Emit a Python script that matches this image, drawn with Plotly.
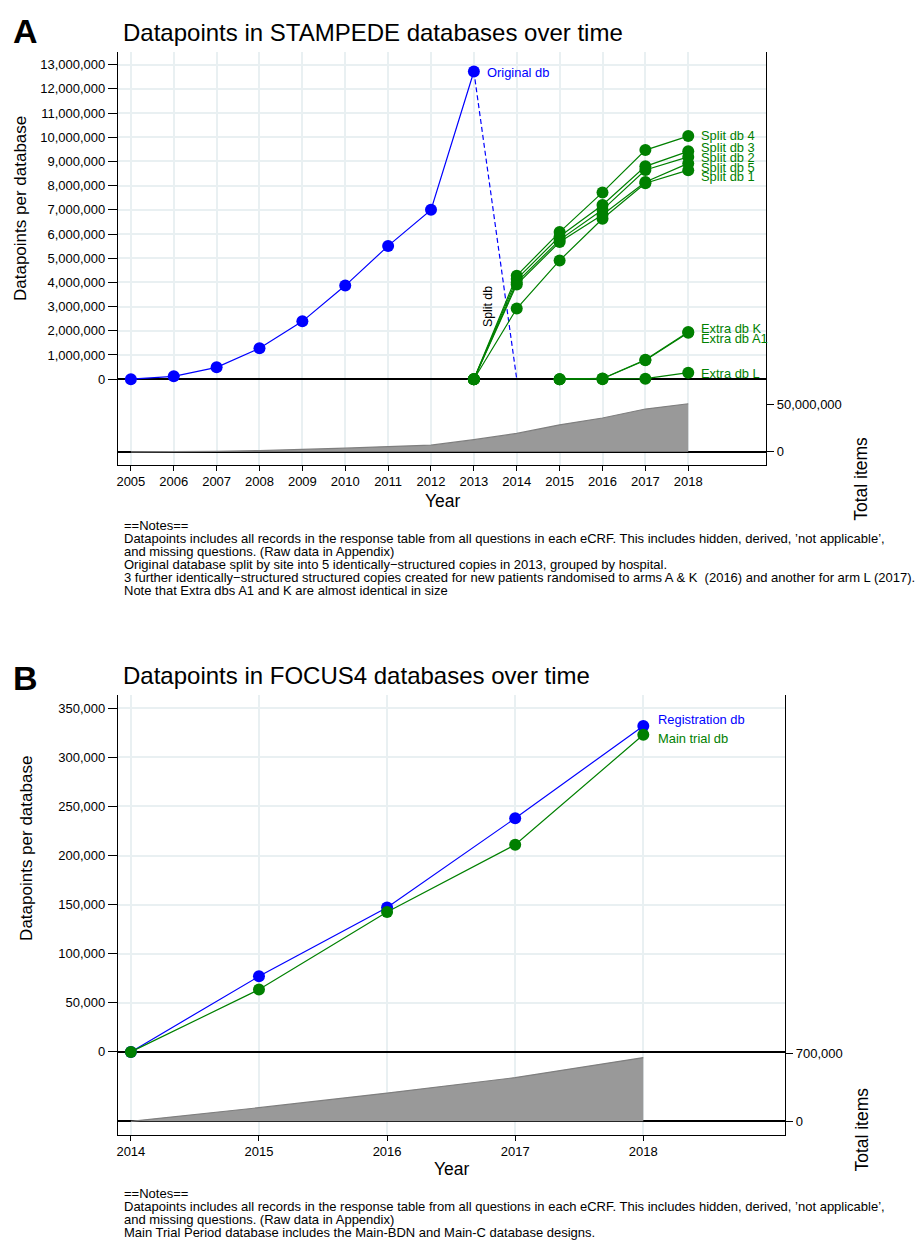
import plotly.graph_objects as go

W, H = 921, 1241
FONT = "Liberation Sans, Arial, Helvetica, sans-serif"
BLUE = "#0000ff"
GREEN = "#008000"
GRID = "#e9f0f2"
AREA_FILL = "#999999"
AREA_LINE = "#7f7f7f"


def px(x):
    return x / W


def py(y):
    return 1 - y / H


# ---------------- Panel A data (STAMPEDE) ----------------
years_a = [2005, 2006, 2007, 2008, 2009, 2010, 2011, 2012, 2013, 2014, 2015, 2016, 2017, 2018]
orig_years = [2005, 2006, 2007, 2008, 2009, 2010, 2011, 2012, 2013]
orig_vals = [0, 0.12e6, 0.49e6, 1.28e6, 2.39e6, 3.87e6, 5.51e6, 7.0e6, 12.72e6]
drop_years = [2013, 2014]
drop_vals = [12.72e6, 0]

split_years = [2013, 2014, 2015, 2016, 2017, 2018]
split_db1 = [0, 2.92e6, 4.91e6, 6.63e6, 8.10e6, 8.64e6]
split_db2 = [0, 4.00e6, 5.76e6, 7.00e6, 8.65e6, 9.19e6]
split_db3 = [0, 4.14e6, 5.90e6, 7.20e6, 8.80e6, 9.42e6]
split_db4 = [0, 4.28e6, 6.08e6, 7.72e6, 9.47e6, 10.05e6]
split_db5 = [0, 3.91e6, 5.67e6, 6.80e6, 8.15e6, 8.92e6]

extra_years = [2015, 2016, 2017, 2018]
extra_db_k = [0, 0.03e6, 0.80e6, 1.95e6]
extra_db_a1 = [0, 0.02e6, 0.78e6, 1.92e6]
extra_db_l = [0, 0, 0.02e6, 0.27e6]

total_a = [0, 0.12e6, 0.49e6, 1.28e6, 2.39e6, 3.87e6, 5.51e6, 7.0e6, 12.72e6,
           19.25e6, 28.3e6, 35.4e6, 44.8e6, 50.3e6]

ticks_a_left = [0, 1e6, 2e6, 3e6, 4e6, 5e6, 6e6, 7e6, 8e6, 9e6, 10e6, 11e6, 12e6, 13e6]
ticks_a_right = [0, 50e6]

# ---------------- Panel B data (FOCUS4) ----------------
years_b = [2014, 2015, 2016, 2017, 2018]
registration_db = [0, 77e3, 147e3, 238e3, 332e3]
main_trial_db = [0, 63.5e3, 142.5e3, 211e3, 323e3]
total_b = [0, 140e3, 290e3, 449e3, 655e3]

ticks_b_left = [0, 50e3, 100e3, 150e3, 200e3, 250e3, 300e3, 350e3]
ticks_b_right = [0, 700e3]

notes_a = [
    "==Notes==",
    "Datapoints includes all records in the response table from all questions in each eCRF. This includes hidden, derived, \u2019not applicable\u2019,",
    "and missing questions. (Raw data in Appendix)",
    "Original database split by site into 5 identically\u2212structured copies in 2013, grouped by hospital.",
    "3 further identically\u2212structured structured copies created for new patients randomised to arms A &amp; K \u00a0(2016) and another for arm L (2017).",
    "Note that Extra dbs A1 and K are almost identical in size",
]
notes_b = [
    "==Notes==",
    "Datapoints includes all records in the response table from all questions in each eCRF. This includes hidden, derived, \u2019not applicable\u2019,",
    "and missing questions. (Raw data in Appendix)",
    "Main Trial Period database includes the Main-BDN and Main-C database designs.",
]

fig = go.Figure()


def line_trace(x, y, color, xa, ya, dash=None, marker=True):
    return go.Scatter(
        x=x, y=y, xaxis=xa, yaxis=ya,
        mode="lines+markers" if marker else "lines",
        line=dict(color=color, width=1.2, dash=dash),
        marker=dict(color=color, size=12),
        cliponaxis=False, showlegend=False, hoverinfo="x+y",
    )


# Panel A lower: total items area
fig.add_trace(go.Scatter(x=years_a, y=total_a, xaxis="x2", yaxis="y2", mode="lines",
                         fill="tozeroy", fillcolor=AREA_FILL,
                         line=dict(color=AREA_LINE, width=1.2),
                         showlegend=False, hoverinfo="x+y"))
# Panel A upper
fig.add_trace(line_trace(drop_years, drop_vals, BLUE, "x", "y", dash="5px,3px", marker=False))
for s in [split_db1, split_db2, split_db3, split_db5, split_db4]:
    fig.add_trace(line_trace(split_years, s, GREEN, "x", "y"))
for s in [extra_db_l, extra_db_a1, extra_db_k]:
    fig.add_trace(line_trace(extra_years, s, GREEN, "x", "y"))
fig.add_trace(line_trace(orig_years, orig_vals, BLUE, "x", "y"))

# Panel B lower area
fig.add_trace(go.Scatter(x=years_b, y=total_b, xaxis="x4", yaxis="y4", mode="lines",
                         fill="tozeroy", fillcolor=AREA_FILL,
                         line=dict(color=AREA_LINE, width=1.2),
                         showlegend=False, hoverinfo="x+y"))
fig.add_trace(line_trace(years_b, registration_db, BLUE, "x3", "y3"))
fig.add_trace(line_trace(years_b, main_trial_db, GREEN, "x3", "y3"))

tickfont = dict(family=FONT, size=13, color="black")
common_x = dict(ticks="outside", ticklen=5, tickcolor="black", showline=True, linecolor="black",
                linewidth=1, showgrid=True, gridcolor=GRID, gridwidth=1.5, zeroline=False,
                tickfont=tickfont, tickmode="array")
common_yl = dict(ticks="outside", ticklen=9, tickcolor="black", showline=True, linecolor="black",
                 linewidth=1, mirror=True, showgrid=True, gridcolor=GRID, gridwidth=1.5,
                 zeroline=True, zerolinecolor="black", zerolinewidth=1.5,
                 tickfont=tickfont, tickformat=",d", tickmode="array")
common_yr = dict(side="right", ticks="outside", ticklen=7, tickcolor="black", showline=False,
                 showgrid=False, zeroline=True, zerolinecolor="black", zerolinewidth=1.5,
                 tickfont=tickfont, tickformat=",d", tickmode="array")

# Panel A axes: px 117..766, 2005 at 130, 2018 at 688
a_ppy = (688 - 130) / 13.0
a_xr = [2005 - (130 - 117) / a_ppy, 2018 + (766 - 688) / a_ppy]
a_ppv = (375 - 59) / 13e6
a_yr = [-(461 - 375) / a_ppv, (375 - 46) / a_ppv]
a_ppv2 = (448 - 400) / 50e6
a_yr2 = [-(461 - 448) / a_ppv2, (448 - 375) / a_ppv2]

# Panel B axes: px 117..785, 2014 at 130, 2018 at 643
b_ppy = (643 - 130) / 4.0
b_xr = [2014 - (130 - 117) / b_ppy, 2018 + (785 - 643) / b_ppy]
b_ppv = (1051 - 705.7) / 350e3
b_yr = [-(1134 - 1051) / b_ppv, (1051 - 692) / b_ppv]
b_ppv2 = (1120.7 - 1052.3) / 700e3
b_yr2 = [-(1134 - 1120.7) / b_ppv2, (1120.7 - 1051) / b_ppv2]

fig.update_layout(
    width=W, height=H, margin=dict(l=0, r=0, t=0, b=0),
    paper_bgcolor="white", plot_bgcolor="rgba(0,0,0,0)",
    font=dict(family=FONT, color="black"),
    xaxis=dict(domain=[px(117), px(766)], range=a_xr, anchor="y", tickvals=years_a, **common_x),
    yaxis=dict(domain=[py(461), py(46)], range=a_yr, anchor="x", tickvals=ticks_a_left, **common_yl),
    xaxis2=dict(domain=[px(117), px(766)], range=a_xr, anchor="y2", visible=False),
    yaxis2=dict(domain=[py(461), py(375)], range=a_yr2, anchor="x2", tickvals=ticks_a_right, **common_yr),
    xaxis3=dict(domain=[px(117), px(785)], range=b_xr, anchor="y3", tickvals=years_b, **common_x),
    yaxis3=dict(domain=[py(1134), py(692)], range=b_yr, anchor="x3", tickvals=ticks_b_left, **common_yl),
    xaxis4=dict(domain=[px(117), px(785)], range=b_xr, anchor="y4", visible=False),
    yaxis4=dict(domain=[py(1134), py(1051)], range=b_yr2, anchor="x4", tickvals=ticks_b_right, **common_yr),
)

ann = []


def paper_text(text, x, y, size, xanchor="left", angle=0, bold=False, color="black"):
    ann.append(dict(text=("<b>%s</b>" % text) if bold else text, x=px(x), y=py(y),
                    xref="paper", yref="paper", xanchor=xanchor, yanchor="middle",
                    textangle=angle, showarrow=False,
                    font=dict(family=FONT, size=size, color=color)))


def series_label(text, xval, yval, xa, ya, color, yshift, xshift=10.5, width=None):
    d = dict(text=text, x=xval, y=yval, xref=xa, yref=ya, xanchor="left", yanchor="middle",
             xshift=xshift, yshift=yshift, showarrow=False,
             font=dict(family=FONT, size=12.9, color=color))
    if width is not None:
        d["width"] = width
        d["align"] = "left"
    ann.append(d)


# Panel A texts
paper_text("A", 10, 25, 34, bold=True)
paper_text("Datapoints in STAMPEDE databases over time", 120, 27, 24)
paper_text("Datapoints per database", 19, 203, 17, xanchor="center", angle=-90)
paper_text("Year", 442, 497, 17.5, xanchor="center")
paper_text("Total items", 861, 475, 17.5, xanchor="center", angle=-90)
for i, t in enumerate(notes_a):
    paper_text(t, 121, 522 + i * 13.1, 13)

series_label("Original db", orig_years[-1], orig_vals[-1], "x", "y", BLUE, -1, xshift=11)
series_label("Split db 4", split_years[-1], split_db4[-1], "x", "y", GREEN, 0.5)
series_label("Split db 3", split_years[-1], split_db3[-1], "x", "y", GREEN, 3.7)
series_label("Split db 2", split_years[-1], split_db2[-1], "x", "y", GREEN, -0.6)
series_label("Split db 5", split_years[-1], split_db5[-1], "x", "y", GREEN, -4)
series_label("Split db 1", split_years[-1], split_db1[-1], "x", "y", GREEN, -6.7)
series_label("Extra db K", extra_years[-1], extra_db_k[-1], "x", "y", GREEN, 3.3)
series_label("Extra db A1", extra_years[-1], extra_db_a1[-1], "x", "y", GREEN, -5.5, width=67)
series_label("Extra db L", extra_years[-1], extra_db_l[-1], "x", "y", GREEN, -0.7)
ann.append(dict(text="Split db", x=2013 + (487 - 130 - 8 * a_ppy) / a_ppy, y=(375 - 302) / a_ppv,
                xref="x", yref="y", textangle=-90, showarrow=False,
                font=dict(family=FONT, size=12.3, color="black")))

# Panel B texts
paper_text("B", 10, 675, 34, bold=True)
paper_text("Datapoints in FOCUS4 databases over time", 120, 673, 24)
paper_text("Datapoints per database", 26, 846, 17, xanchor="center", angle=-90)
paper_text("Year", 451, 1169, 17.5, xanchor="center")
paper_text("Total items", 861, 1129, 17.5, xanchor="center", angle=-90)
for i, t in enumerate(notes_b):
    paper_text(t, 121, 1193 + i * 13.3, 13)

series_label("Registration db", years_b[-1], registration_db[-1], "x3", "y3", BLUE, 6.7, xshift=13)
series_label("Main trial db", years_b[-1], main_trial_db[-1], "x3", "y3", GREEN, -3.7, xshift=12.5)

fig.update_layout(annotations=ann)

fig.write_html("out.html", config={"displayModeBar": False},
               post_script="document.body.style.margin='0';document.body.style.overflow='hidden';")
